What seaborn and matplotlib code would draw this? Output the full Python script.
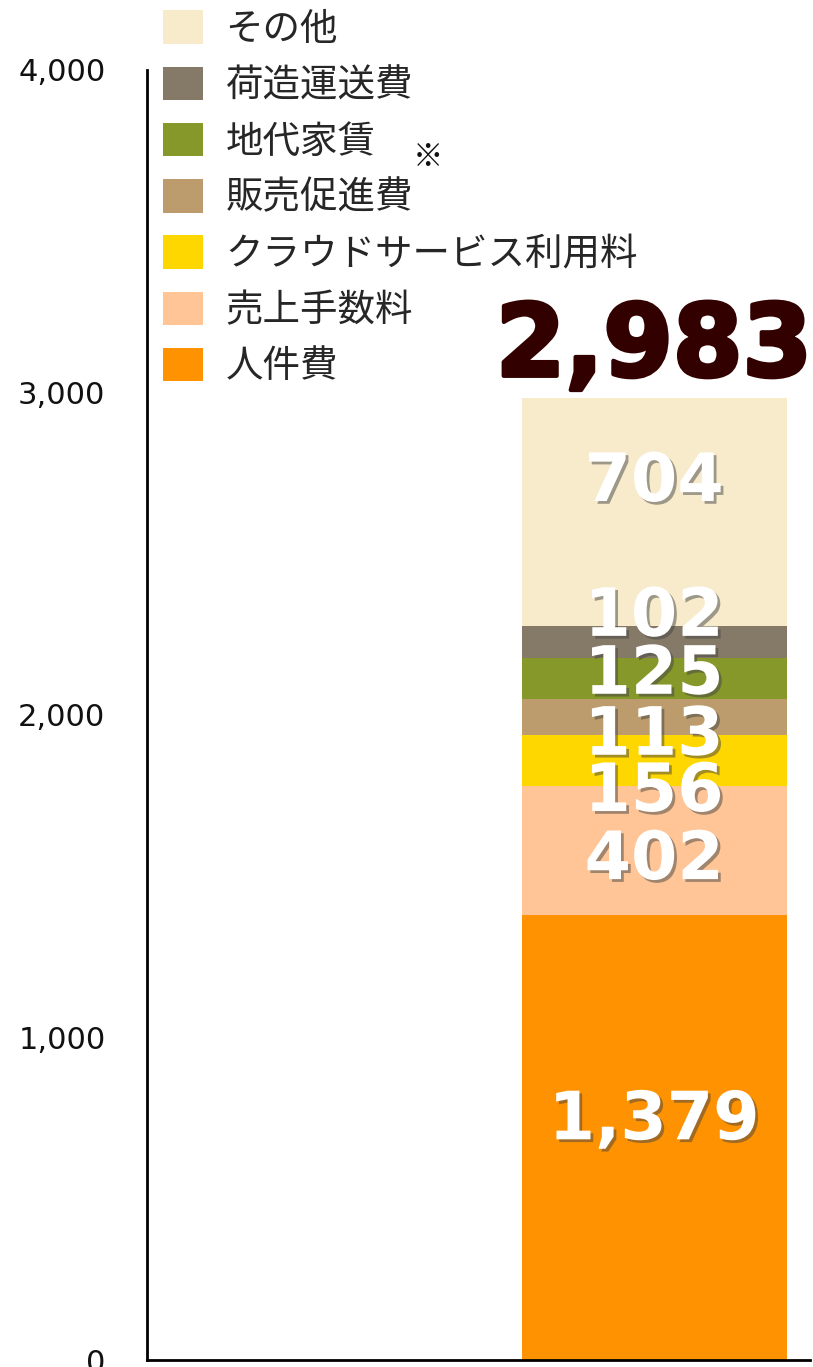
import pandas as pd
import matplotlib
matplotlib.use("Agg")
import matplotlib.pyplot as plt
import matplotlib.patheffects as pe
import seaborn as sns

# stacked from the bottom up
categories = ["人件費", "売上手数料", "クラウドサービス利用料", "販売促進費",
              "地代家賃", "荷造運送費", "その他"]
values = [1379, 402, 156, 113, 125, 102, 704]
value_labels = ["1,379", "402", "156", "113", "125", "102", "704"]
total_label = "2,983"
y_ticks = [0, 1000, 2000, 3000, 4000]
y_ticklabels = ["0", "1,000", "2,000", "3,000", "4,000"]

colors = ["#FF9200", "#FFC596", "#FFD700", "#BC9C6C",
          "#86982A", "#857A68", "#F8EBCB"]
# label nudges (data units) so the small segments do not collide
label_shift = [54, -30, -98, -58, 12, 78, 93]

sns.set_theme(style="white")
plt.rcParams["font.family"] = ["Noto Sans CJK JP", "DejaVu Sans"]

fig = plt.figure(figsize=(8.13, 13.67), dpi=100)
ax = fig.add_axes([0.181, 0.005, 0.815, 0.944])

df = pd.DataFrame({"cat": categories, "v": values})

shadow = [pe.withSimplePatchShadow(offset=(2, -2), shadow_rgbFace="#444444", alpha=0.5)]

bottom = 0
for i, row in df.iterrows():
    sns.barplot(
        x=[0], y=[row["v"]],
        bottom=bottom,
        color=colors[i],
        width=0.8,
        label=row["cat"],
        ax=ax,
        native_scale=True,
        saturation=1,
        linewidth=0,
    )
    mid = bottom + row["v"] / 2 + label_shift[i]
    ax.text(
        0, mid, value_labels[i],
        ha="center", va="center",
        color="white", fontsize=48, fontweight="bold",
        family="DejaVu Sans",
        path_effects=shadow,
        zorder=5,
    )
    bottom += row["v"]

ax.text(
    0, bottom + 5, total_label,
    ha="center", va="bottom",
    color="#330000", fontsize=72, fontweight="bold",
    family="DejaVu Sans", zorder=5,
    path_effects=[pe.Stroke(linewidth=3, foreground="#330000"), pe.Normal()],
)

ax.set_xlim(-1.53, 0.47)
ax.set_ylim(0, 4000)
ax.set_yticks(y_ticks)
ax.set_yticklabels(y_ticklabels, fontsize=22, family="DejaVu Sans", color="#111111")
ax.tick_params(axis="y", length=0, pad=30)
ax.set_xticks([])
ax.set_xlabel("")
ax.set_ylabel("")
for s in ["top", "right"]:
    ax.spines[s].set_visible(False)
for s in ["left", "bottom"]:
    ax.spines[s].set_color("black")
    ax.spines[s].set_linewidth(2)
ax.set_facecolor("white")

handles, labels = ax.get_legend_handles_labels()
fig.legend(
    handles[::-1], labels[::-1],
    loc="upper left",
    bbox_to_anchor=(163 / 813, 1 - 10 / 1367),
    frameon=False,
    fontsize=27,
    handlelength=1.07,
    handleheight=1.0,
    handletextpad=0.6,
    labelspacing=0.46,
    borderpad=0,
    borderaxespad=0,
)
if ax.get_legend() is not None:
    ax.get_legend().remove()

fig.text(428 / 813, 1 - 157 / 1367, "※", fontsize=22, ha="center", va="center",
         color="#111111")

fig.savefig("out.png", dpi=100, facecolor="white")
